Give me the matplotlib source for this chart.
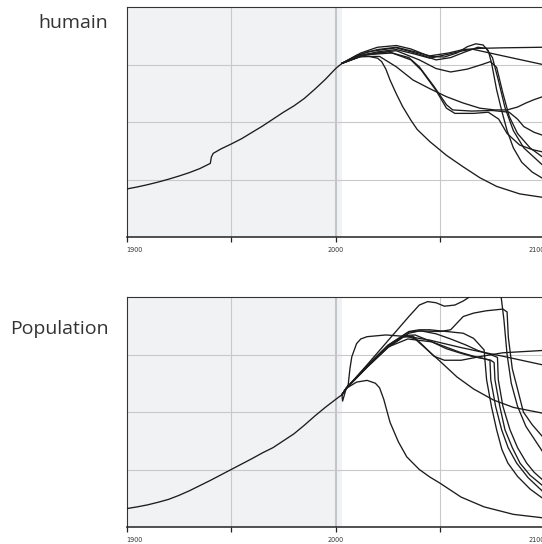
import numpy as np
import matplotlib.pyplot as plt

# ---- top panel ("humain") ----
top_hist_years = [1900, 1905, 1910, 1915, 1920, 1925, 1930, 1935, 1940.0, 1940.5, 1941.4, 1945, 1950,
                  1955, 1960, 1965, 1970, 1975, 1980, 1985, 1990, 1995, 2000, 2003]
top_hist_vals = [0.835, 0.87, 0.91, 0.955, 1.005, 1.06, 1.12, 1.19, 1.28, 1.39, 1.455, 1.53, 1.617,
                 1.71, 1.82, 1.93, 2.05, 2.17, 2.28, 2.41, 2.57, 2.74, 2.93, 3.02]

t_collapse_years = [2003, 2009, 2016, 2020, 2022, 2024, 2026, 2029, 2032, 2036, 2039, 2045, 2053, 2061, 2069, 2077, 2088, 2099, 2110]
t_collapse_vals = [3.02, 3.13, 3.14, 3.11, 3.05, 2.92, 2.73, 2.49, 2.27, 2.03, 1.87, 1.66, 1.42, 1.22, 1.03, 0.88, 0.75, 0.69, 0.66]

t_flat_years = [2003, 2010, 2020, 2029, 2038, 2045, 2054, 2061, 2068, 2080, 2099, 2110]
t_flat_vals = [3.02, 3.14, 3.22, 3.26, 3.18, 3.11, 3.18, 3.24, 3.28, 3.29, 3.30, 3.31]

t_decline_years = [2003, 2010, 2020, 2029, 2038, 2045, 2054, 2061, 2065, 2080, 2099, 2110]
t_decline_vals = [3.02, 3.16, 3.26, 3.30, 3.22, 3.15, 3.20, 3.26, 3.27, 3.15, 3.00, 2.91]

t_bump1_years = [2003, 2012, 2020, 2029, 2036, 2045, 2052, 2058, 2063, 2067, 2070.5, 2073, 2074.6, 2077,
                 2079.4, 2082, 2085, 2089, 2094, 2099, 2110]
t_bump1_vals = [3.02, 3.20, 3.30, 3.33, 3.27, 3.14, 3.13, 3.20, 3.31, 3.36, 3.34, 3.24, 3.02, 2.56,
                2.20, 1.85, 1.55, 1.30, 1.13, 1.02, 0.88]

t_bump2_years = [2003, 2015, 2029, 2040, 2048, 2055, 2062, 2068, 2072, 2075, 2078, 2081, 2085, 2090, 2099, 2110]
t_bump2_vals = [3.02, 3.22, 3.29, 3.18, 3.08, 3.12, 3.22, 3.30, 3.28, 3.12, 2.70, 2.25, 1.85, 1.55, 1.25, 1.05]

t_dip_years = [2003, 2015, 2029, 2040, 2048, 2055, 2063, 2070, 2074, 2077, 2080, 2083, 2087, 2093, 2099, 2110]
t_dip_vals = [3.02, 3.18, 3.24, 3.08, 2.93, 2.87, 2.92, 3.00, 3.05, 2.95, 2.50, 2.10, 1.80, 1.55, 1.39, 1.20]

t_plat1_years = [2003, 2012, 2025, 2035, 2040, 2047, 2053, 2056, 2065, 2075, 2083, 2087, 2090, 2095, 2099, 2110]
t_plat1_vals = [3.02, 3.15, 3.22, 3.12, 2.96, 2.62, 2.30, 2.21, 2.19, 2.20, 2.17, 2.05, 1.92, 1.82, 1.77, 1.65]

t_plat2_years = [2003, 2014, 2027, 2036, 2041, 2048, 2053, 2057, 2066, 2073, 2078, 2082, 2088, 2094, 2099, 2110]
t_plat2_vals = [3.02, 3.17, 3.20, 3.08, 2.90, 2.55, 2.24, 2.15, 2.15, 2.17, 2.05, 1.80, 1.60, 1.52, 1.48, 1.40]

t_u_years = [2003, 2012, 2021, 2029, 2037, 2045, 2053, 2061, 2069, 2076, 2082, 2087, 2091, 2095, 2099, 2110]
t_u_vals = [3.02, 3.14, 3.14, 2.96, 2.73, 2.58, 2.44, 2.33, 2.24, 2.21, 2.21, 2.26, 2.33, 2.39, 2.44, 2.62]

# ---- bottom panel ("Population") ----
b_hist_years = [1900, 1905, 1910, 1915, 1920, 1925, 1930, 1935, 1940, 1945, 1950, 1955, 1960, 1965,
                1970, 1975, 1980, 1985, 1990, 1995, 2000, 2003]
b_hist_vals = [0.32, 0.35, 0.385, 0.43, 0.48, 0.55, 0.63, 0.72, 0.81, 0.905, 1.0, 1.095, 1.19, 1.29,
               1.38, 1.50, 1.62, 1.77, 1.93, 2.08, 2.22, 2.30]

b_collapse_years = [2003, 2005, 2010, 2015, 2019, 2021, 2023, 2026, 2030, 2034, 2040, 2045, 2050, 2060, 2071, 2085, 2099, 2110]
b_collapse_vals = [2.30, 2.41, 2.52, 2.55, 2.50, 2.42, 2.22, 1.82, 1.48, 1.22, 1.0, 0.87, 0.76, 0.52, 0.35, 0.22, 0.16, 0.13]

b_surge_years = [2003, 2003.3, 2004.8, 2006, 2006.8, 2007.7, 2010, 2012, 2015, 2024, 2035, 2045, 2060, 2069, 2080, 2099, 2110]
b_surge_vals = [2.30, 2.19, 2.38, 2.48, 2.75, 2.96, 3.19, 3.27, 3.31, 3.34, 3.31, 3.25, 3.12, 3.05, 2.97, 2.82, 2.72]

b_high_years = [2003, 2005, 2015, 2025, 2035, 2040, 2044, 2048, 2052, 2057, 2061, 2064, 2070, 2076, 2079,
                2080.5, 2082, 2084, 2087, 2091, 2099, 2110]
b_high_vals = [2.30, 2.41, 2.82, 3.24, 3.66, 3.86, 3.92, 3.90, 3.84, 3.86, 3.93, 4.0, 4.3, 4.3, 4.05,
               3.6, 3.0, 2.5, 2.1, 1.75, 1.31, 1.05]

b_rise_years = [2003, 2005, 2015, 2025, 2035, 2040, 2050, 2055, 2061, 2066, 2072, 2080, 2082, 2082.6,
                2084.5, 2087, 2089.8, 2094, 2099, 2110]
b_rise_vals = [2.30, 2.41, 2.78, 3.12, 3.37, 3.41, 3.40, 3.43, 3.66, 3.72, 3.76, 3.79, 3.74, 3.30,
               2.75, 2.40, 2.00, 1.78, 1.57, 1.30]

b_flat_years = [2003, 2005, 2015, 2025, 2032, 2037, 2042, 2047, 2052, 2060, 2070, 2080, 2099, 2110]
b_flat_vals = [2.30, 2.41, 2.78, 3.13, 3.30, 3.32, 3.15, 2.97, 2.90, 2.90, 2.97, 3.03, 3.07, 3.09]

b_diag_years = [2003, 2005, 2015, 2025, 2033, 2038, 2042, 2050, 2058, 2066, 2075.4, 2085, 2099, 2110]
b_diag_vals = [2.30, 2.41, 2.80, 3.15, 3.33, 3.27, 3.14, 2.88, 2.61, 2.40, 2.21, 2.08, 1.98, 1.92]

b_s1_years = [2003, 2005, 2015, 2025, 2035, 2040, 2045, 2053, 2061, 2066, 2071, 2072.2, 2074.5, 2077,
              2079.5, 2082.4, 2087, 2093, 2099, 2110]
b_s1_vals = [2.30, 2.41, 2.80, 3.16, 3.40, 3.43, 3.43, 3.40, 3.37, 3.28, 3.08, 2.56, 2.10, 1.69,
             1.35, 1.11, 0.88, 0.66, 0.50, 0.38]

b_s2_years = [2003, 2005, 2015, 2025, 2033, 2038, 2046, 2053, 2060, 2066, 2070.6, 2073.8, 2074.2, 2076.5,
              2079.4, 2082.5, 2086.6, 2092, 2099, 2110]
b_s2_vals = [2.30, 2.41, 2.79, 3.14, 3.33, 3.34, 3.22, 3.10, 3.02, 2.96, 2.93, 2.90, 2.56, 2.10,
             1.69, 1.38, 1.11, 0.86, 0.62, 0.46]

b_s3_years = [2003, 2005, 2015, 2025, 2034.5, 2046, 2052, 2059.3, 2066, 2074.2, 2075.8, 2076.2, 2078.5,
              2081, 2084.5, 2088.2, 2093, 2099, 2110]
b_s3_vals = [2.30, 2.41, 2.78, 3.13, 3.27, 3.22, 3.14, 3.04, 2.97, 2.90, 2.86, 2.56, 2.10,
             1.69, 1.38, 1.11, 0.90, 0.72, 0.55]

b_s4_years = [2003, 2005, 2015, 2025, 2035, 2041, 2048, 2055, 2062, 2068, 2074, 2077.4, 2077.8, 2080,
              2083.4, 2087, 2091.4, 2095, 2099, 2110]
b_s4_vals = [2.30, 2.41, 2.80, 3.16, 3.39, 3.41, 3.36, 3.27, 3.17, 3.07, 3.00, 2.95, 2.56, 2.10,
             1.69, 1.38, 1.11, 0.95, 0.82, 0.64]

top_scenarios = [
    (t_collapse_years, t_collapse_vals), (t_flat_years, t_flat_vals), (t_decline_years, t_decline_vals),
    (t_bump1_years, t_bump1_vals), (t_bump2_years, t_bump2_vals), (t_dip_years, t_dip_vals),
    (t_plat1_years, t_plat1_vals), (t_plat2_years, t_plat2_vals), (t_u_years, t_u_vals),
]
bottom_scenarios = [
    (b_collapse_years, b_collapse_vals), (b_surge_years, b_surge_vals), (b_high_years, b_high_vals),
    (b_rise_years, b_rise_vals), (b_flat_years, b_flat_vals), (b_diag_years, b_diag_vals),
    (b_s1_years, b_s1_vals), (b_s2_years, b_s2_vals), (b_s3_years, b_s3_vals), (b_s4_years, b_s4_vals),
]

tick_years = [1900, 1950, 2000, 2050, 2100, 2150]
tick_labels = ["1900", "", "2000", "", "2100", ""]

W, H = 542, 544
LINE = "#1c1c1c"
GRID = "#c9c9c9"


def draw_panel(ax, hist_years, hist_vals, scenarios):
    ax.set_xlim(1900, 2200)
    ax.set_ylim(0, 4)
    ax.axvspan(1900, 2003, color="#f1f2f4", zorder=0, lw=0)
    for yr in [1950, 2050, 2100, 2150]:
        ax.axvline(yr, color=GRID, lw=0.8, zorder=1)
    ax.axvline(2000, color="#c4c5c8", lw=1.5, zorder=1)
    for v in [1, 2, 3]:
        ax.axhline(v, color=GRID, lw=0.8, zorder=1)
    for yrs, vals in scenarios:
        ax.plot(yrs, vals, color=LINE, lw=0.95, zorder=3, solid_joinstyle="round")
    ax.plot(hist_years, hist_vals, color=LINE, lw=0.95, zorder=3, solid_joinstyle="round")

    ax.set_yticks([])
    ax.set_xticks(tick_years)
    ax.set_xticklabels(tick_labels, fontsize=4.7, color="#333333")
    ax.tick_params(axis="x", direction="out", length=3.4, width=0.9, color="#222222", pad=4.0)
    labels = ax.get_xticklabels()
    labels[0].set_horizontalalignment("left")
    labels[4].set_horizontalalignment("right")
    for side in ["left", "top"]:
        ax.spines[side].set_color("#333333")
        ax.spines[side].set_linewidth(0.8)
    ax.spines["bottom"].set_color("#222222")
    ax.spines["bottom"].set_linewidth(1.1)
    ax.spines["right"].set_visible(False)


fig = plt.figure(figsize=(W / 100, H / 100), dpi=100)
left = 126.7 / W
width = 300 * 2.09 / W
height = 230 / H

ax_top = fig.add_axes([left, (H - 237) / H, width, height])
draw_panel(ax_top, top_hist_years, top_hist_vals, top_scenarios)

ax_bot = fig.add_axes([left, (H - 527) / H, width, height])
draw_panel(ax_bot, b_hist_years, b_hist_vals, bottom_scenarios)

fig.text(108.5 / W, (H - 28.3) / H, "humain", ha="right", va="baseline",
         fontsize=14, color="#333333", family=["Open Sans", "DejaVu Sans"])
fig.text(108.5 / W, (H - 333.7) / H, "Population", ha="right", va="baseline",
         fontsize=14, color="#333333", family=["Open Sans", "DejaVu Sans"])

fig.savefig("out.png", dpi=100)
